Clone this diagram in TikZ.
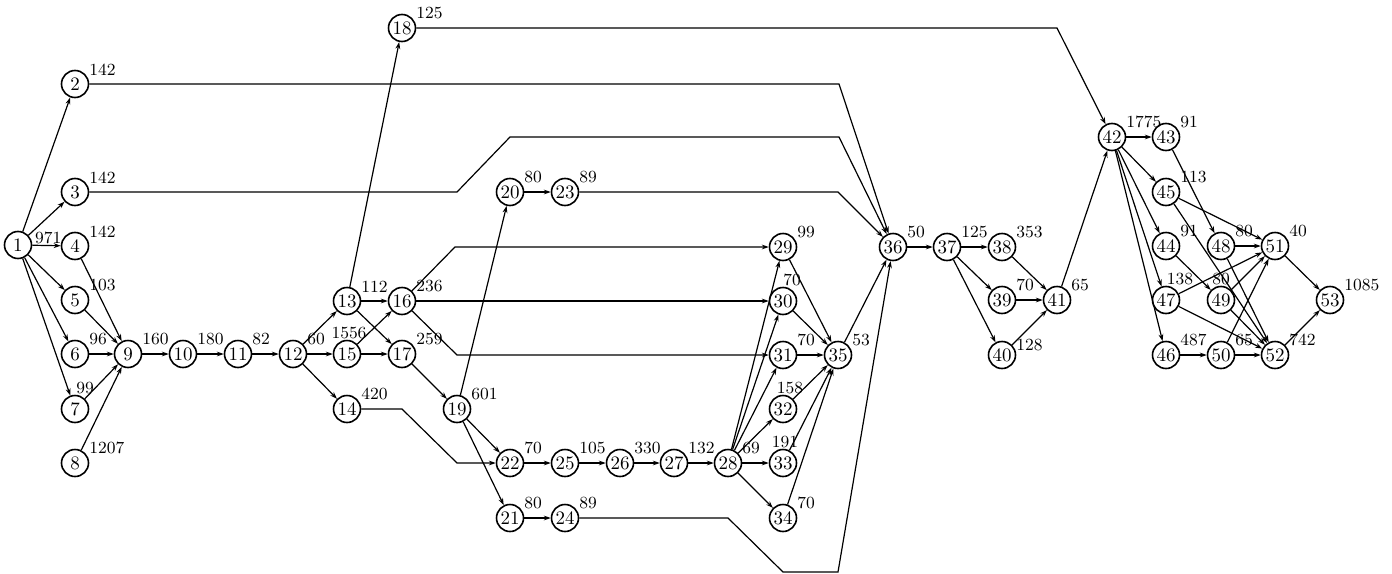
\documentclass[tikz,border=0pt]{standalone}
\usepackage{tikz}
\usetikzlibrary{arrows.meta}
\usetikzlibrary{positioning}

\begin{document}
\begin{tikzpicture}[
    x=0.5pt, y=-0.5pt,
    every node/.style={circle, draw, line width=0.8pt, minimum size=13.5pt, inner sep=0pt, font=\fontsize{9.5}{9.5}\selectfont},
    lbl/.style={rectangle, draw=none, minimum size=0pt, inner sep=0pt, font=\fontsize{8.5}{8.5}\selectfont},
    num/.style={label={[lbl, anchor=south west, xshift=1.75pt, yshift=-1pt]north east:#1}},
    top/.style 2 args={label={[lbl, anchor=south, xshift=#1]north:#2}},
    act/.style={line width=0.6pt, -{Stealth[length=3.5pt, width=2.4pt]}}
  ]
  \useasboundingbox (0,0) rectangle (1392,573);

  % Nodes
  \node[label={[lbl, anchor=south west, xshift=1pt]east:971}] (1) at (18,245) {1};
  \node[num=142]  (2)  at (75,84)   {2};
  \node[num=142]  (3)  at (75,192)  {3};
  \node[num=142]  (4)  at (75,246)  {4};
  \node[num=103]  (5)  at (75,300)  {5};
  \node[num=96]   (6)  at (75,354)  {6};
  \node[top={5pt}{99}] (7) at (75,409) {7};
  \node[num=1207] (8)  at (75,463)  {8};
  \node[num=160]  (9)  at (128,354) {9};
  \node[num=180]  (10) at (183,354) {10};
  \node[num=82]   (11) at (238,354) {11};
  \node[num=60]   (12) at (293,354) {12};
  \node[num=112]  (13) at (347,301) {13};
  \node[num=420]  (14) at (347,409) {14};
  \node[top={1pt}{1556}] (15) at (347,354) {15};
  \node[num=236]  (16) at (402,301) {16};
  \node[num=259]  (17) at (402,354) {17};
  \node[num=125]  (18) at (402,28)  {18};
  \node[num=601]  (19) at (457,409) {19};
  \node[num=80]   (20) at (510,192) {20};
  \node[num=80]   (21) at (510,518) {21};
  \node[num=70]   (22) at (510,463) {22};
  \node[num=89]   (23) at (565,192) {23};
  \node[num=89]   (24) at (565,518) {24};
  \node[num=105]  (25) at (565,463) {25};
  \node[num=330]  (26) at (620,463) {26};
  \node[num=132]  (27) at (674,463) {27};
  \node[num=69]   (28) at (728,463) {28};
  \node[num=99]   (29) at (783,247) {29};
  \node[top={4.5pt}{70}] (30) at (783,301) {30};
  \node[num=70]   (31) at (783,355) {31};
  \node[top={3.5pt}{158}] (32) at (783,409) {32};
  \node[top={1pt}{191}] (33) at (783,463) {33};
  \node[num=70]   (34) at (783,518) {34};
  \node[num=53]   (35) at (838,355) {35};
  \node[num=50]   (36) at (893,247) {36};
  \node[num=125]  (37) at (947,247) {37};
  \node[num=353]  (38) at (1002,247) {38};
  \node[num=70]   (39) at (1002,300) {39};
  \node[label={[lbl, anchor=south west, xshift=1.75pt, yshift=-3.5pt]north east:128}] (40) at (1002,355) {40};
  \node[num=65]   (41) at (1057,300) {41};
  \node[num=1775] (42) at (1112,137) {42};
  \node[num=91]   (43) at (1166,137) {43};
  \node[num=91]   (44) at (1166,246) {44};
  \node[num=113]  (45) at (1166,192) {45};
  \node[num=487]  (46) at (1166,355) {46};
  \node[top={7pt}{138}] (47) at (1166,300) {47};
  \node[num=80]   (48) at (1221,246) {48};
  \node[top={0pt}{80}] (49) at (1221,300) {49};
  \node[num=65]   (50) at (1221,355) {50};
  \node[num=40]   (51) at (1275,246) {51};
  \node[num=742]  (52) at (1275,355) {52};
  \node[num=1085] (53) at (1330,300) {53};

  % Activities
  \draw[act] (1) -- (2);  \draw[act] (1) -- (3);  \draw[act] (1) -- (4);
  \draw[act] (1) -- (5);  \draw[act] (1) -- (6);  \draw[act] (1) -- (7);
  \draw[act] (4) -- (9);  \draw[act] (5) -- (9);  \draw[act] (6) -- (9);
  \draw[act] (7) -- (9);  \draw[act] (8) -- (9);
  \draw[act] (9) -- (10); \draw[act] (10) -- (11); \draw[act] (11) -- (12);
  \draw[act] (12) -- (13); \draw[act] (12) -- (15); \draw[act] (12) -- (14);
  \draw[act] (13) -- (18); \draw[act] (13) -- (16); \draw[act] (13) -- (17);
  \draw[act] (15) -- (16); \draw[act] (15) -- (17);
  \draw[act] (16) -- (30);
  \draw[act] (16) -- (455,247) -- (29);
  \draw[act] (16) -- (457,355) -- (31);
  \draw[act] (17) -- (19);
  \draw[act] (19) -- (20); \draw[act] (19) -- (22); \draw[act] (19) -- (21);
  \draw[act] (20) -- (23); \draw[act] (21) -- (24);
  \draw[act] (14) -- (402,409) -- (457,463) -- (22);
  \draw[act] (22) -- (25); \draw[act] (25) -- (26); \draw[act] (26) -- (27);
  \draw[act] (27) -- (28);
  \draw[act] (28) -- (29); \draw[act] (28) -- (30); \draw[act] (28) -- (31);
  \draw[act] (28) -- (32); \draw[act] (28) -- (33); \draw[act] (28) -- (34);
  \draw[act] (29) -- (35); \draw[act] (30) -- (35); \draw[act] (31) -- (35);
  \draw[act] (32) -- (35); \draw[act] (33) -- (35); \draw[act] (34) -- (35);

  % long links into 36 and 42
  \draw[act] (2) -- (839,84) -- (36);
  \draw[act] (3) -- (457,192) -- (510,137) -- (839,137) -- (36);
  \draw[act] (23) -- (838,192) -- (36);
  \draw[act] (24) -- (728,518) -- (783,572) -- (838,572) -- (36);
  \draw[act] (18) -- (1057,28) -- (42);

  \draw[act] (35) -- (36); \draw[act] (36) -- (37);
  \draw[act] (37) -- (38); \draw[act] (37) -- (39); \draw[act] (37) -- (40);
  \draw[act] (38) -- (41); \draw[act] (39) -- (41); \draw[act] (40) -- (41);
  \draw[act] (41) -- (42);
  \draw[act] (42) -- (43); \draw[act] (42) -- (45); \draw[act] (42) -- (44);
  \draw[act] (42) -- (47); \draw[act] (42) -- (46);
  \draw[act] (43) -- (48); \draw[act] (45) -- (51); \draw[act] (45) -- (52);
  \draw[act] (44) -- (49); \draw[act] (48) -- (51); \draw[act] (48) -- (52);
  \draw[act] (47) -- (51); \draw[act] (47) -- (52);
  \draw[act] (49) -- (51); \draw[act] (49) -- (52);
  \draw[act] (46) -- (50); \draw[act] (50) -- (51); \draw[act] (50) -- (52);
  \draw[act] (51) -- (53); \draw[act] (52) -- (53);

\end{tikzpicture}
\end{document}
